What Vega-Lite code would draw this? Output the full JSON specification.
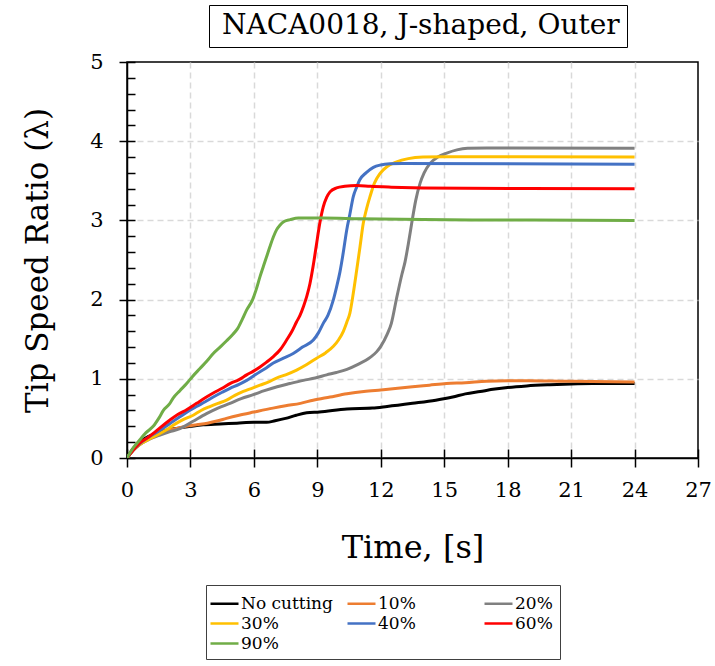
{
  "$schema": "https://vega.github.io/schema/vega-lite/v6.json",
  "width": 571,
  "height": 396,
  "autosize": {"type": "none"},
  "padding": {"left": 127, "top": 62, "right": 17, "bottom": 208},
  "background": "white",
  "config": {
    "view": {"stroke": "black", "strokeWidth": 1.5},
    "font": "DejaVu Serif"
  },
  "datasets": {
    "tsr": [
      {"cut": "No cutting", "t": 0, "tsr": 0},
      {"cut": "No cutting", "t": 0.3, "tsr": 0.12},
      {"cut": "No cutting", "t": 0.6, "tsr": 0.2},
      {"cut": "No cutting", "t": 1.0, "tsr": 0.27},
      {"cut": "No cutting", "t": 1.5, "tsr": 0.32},
      {"cut": "No cutting", "t": 2.0, "tsr": 0.36},
      {"cut": "No cutting", "t": 2.5, "tsr": 0.38},
      {"cut": "No cutting", "t": 3.0, "tsr": 0.4},
      {"cut": "No cutting", "t": 3.6, "tsr": 0.42},
      {"cut": "No cutting", "t": 4.4, "tsr": 0.43},
      {"cut": "No cutting", "t": 5.2, "tsr": 0.44},
      {"cut": "No cutting", "t": 6.0, "tsr": 0.45},
      {"cut": "No cutting", "t": 6.6, "tsr": 0.45},
      {"cut": "No cutting", "t": 7.0, "tsr": 0.47},
      {"cut": "No cutting", "t": 7.5, "tsr": 0.5},
      {"cut": "No cutting", "t": 8.0, "tsr": 0.54},
      {"cut": "No cutting", "t": 8.5, "tsr": 0.57},
      {"cut": "No cutting", "t": 9.1, "tsr": 0.58},
      {"cut": "No cutting", "t": 10.4, "tsr": 0.62},
      {"cut": "No cutting", "t": 11.6, "tsr": 0.63},
      {"cut": "No cutting", "t": 12.3, "tsr": 0.65},
      {"cut": "No cutting", "t": 13.5, "tsr": 0.69},
      {"cut": "No cutting", "t": 14.6, "tsr": 0.73},
      {"cut": "No cutting", "t": 15.4, "tsr": 0.77},
      {"cut": "No cutting", "t": 16.0, "tsr": 0.81},
      {"cut": "No cutting", "t": 16.7, "tsr": 0.84},
      {"cut": "No cutting", "t": 17.4, "tsr": 0.87},
      {"cut": "No cutting", "t": 18.0, "tsr": 0.89},
      {"cut": "No cutting", "t": 18.9, "tsr": 0.91},
      {"cut": "No cutting", "t": 20.0, "tsr": 0.925},
      {"cut": "No cutting", "t": 21.0, "tsr": 0.935},
      {"cut": "No cutting", "t": 22.0, "tsr": 0.94},
      {"cut": "No cutting", "t": 23.0, "tsr": 0.94},
      {"cut": "No cutting", "t": 24.0, "tsr": 0.94},

      {"cut": "10%", "t": 0, "tsr": 0},
      {"cut": "10%", "t": 0.3, "tsr": 0.1},
      {"cut": "10%", "t": 0.6, "tsr": 0.17},
      {"cut": "10%", "t": 1.0, "tsr": 0.24},
      {"cut": "10%", "t": 1.7, "tsr": 0.33},
      {"cut": "10%", "t": 2.3, "tsr": 0.37},
      {"cut": "10%", "t": 2.8, "tsr": 0.4},
      {"cut": "10%", "t": 3.3, "tsr": 0.42},
      {"cut": "10%", "t": 3.8, "tsr": 0.44},
      {"cut": "10%", "t": 4.3, "tsr": 0.47},
      {"cut": "10%", "t": 4.7, "tsr": 0.5},
      {"cut": "10%", "t": 5.3, "tsr": 0.54},
      {"cut": "10%", "t": 6.0, "tsr": 0.58},
      {"cut": "10%", "t": 6.9, "tsr": 0.63},
      {"cut": "10%", "t": 7.5, "tsr": 0.66},
      {"cut": "10%", "t": 8.2, "tsr": 0.69},
      {"cut": "10%", "t": 8.8, "tsr": 0.73},
      {"cut": "10%", "t": 9.6, "tsr": 0.77},
      {"cut": "10%", "t": 10.4, "tsr": 0.81},
      {"cut": "10%", "t": 11.2, "tsr": 0.84},
      {"cut": "10%", "t": 12.0, "tsr": 0.86},
      {"cut": "10%", "t": 12.8, "tsr": 0.88},
      {"cut": "10%", "t": 13.5, "tsr": 0.9},
      {"cut": "10%", "t": 14.3, "tsr": 0.92},
      {"cut": "10%", "t": 15.1, "tsr": 0.94},
      {"cut": "10%", "t": 16.0, "tsr": 0.95},
      {"cut": "10%", "t": 17.0, "tsr": 0.97},
      {"cut": "10%", "t": 18.0, "tsr": 0.975},
      {"cut": "10%", "t": 19.0, "tsr": 0.975},
      {"cut": "10%", "t": 20.5, "tsr": 0.97},
      {"cut": "10%", "t": 22.0, "tsr": 0.965},
      {"cut": "10%", "t": 24.0, "tsr": 0.96},

      {"cut": "20%", "t": 0, "tsr": 0},
      {"cut": "20%", "t": 0.3, "tsr": 0.1},
      {"cut": "20%", "t": 0.6, "tsr": 0.17},
      {"cut": "20%", "t": 1.0, "tsr": 0.23},
      {"cut": "20%", "t": 1.56, "tsr": 0.29},
      {"cut": "20%", "t": 2.0, "tsr": 0.33},
      {"cut": "20%", "t": 2.5, "tsr": 0.37},
      {"cut": "20%", "t": 3.1, "tsr": 0.46},
      {"cut": "20%", "t": 3.76, "tsr": 0.56},
      {"cut": "20%", "t": 4.3, "tsr": 0.63},
      {"cut": "20%", "t": 4.87, "tsr": 0.69},
      {"cut": "20%", "t": 5.4, "tsr": 0.75},
      {"cut": "20%", "t": 5.97, "tsr": 0.8},
      {"cut": "20%", "t": 6.5, "tsr": 0.85},
      {"cut": "20%", "t": 7.1, "tsr": 0.9},
      {"cut": "20%", "t": 7.7, "tsr": 0.94},
      {"cut": "20%", "t": 8.34, "tsr": 0.98},
      {"cut": "20%", "t": 8.9, "tsr": 1.01},
      {"cut": "20%", "t": 9.44, "tsr": 1.05},
      {"cut": "20%", "t": 9.9, "tsr": 1.08},
      {"cut": "20%", "t": 10.4, "tsr": 1.12},
      {"cut": "20%", "t": 10.9, "tsr": 1.18},
      {"cut": "20%", "t": 11.5, "tsr": 1.27},
      {"cut": "20%", "t": 11.8, "tsr": 1.34},
      {"cut": "20%", "t": 12.0, "tsr": 1.41},
      {"cut": "20%", "t": 12.3, "tsr": 1.56},
      {"cut": "20%", "t": 12.5, "tsr": 1.7},
      {"cut": "20%", "t": 12.75, "tsr": 2.02},
      {"cut": "20%", "t": 13.0, "tsr": 2.32},
      {"cut": "20%", "t": 13.15, "tsr": 2.48},
      {"cut": "20%", "t": 13.3, "tsr": 2.7},
      {"cut": "20%", "t": 13.46, "tsr": 2.96},
      {"cut": "20%", "t": 13.65, "tsr": 3.25},
      {"cut": "20%", "t": 13.86, "tsr": 3.47},
      {"cut": "20%", "t": 14.05, "tsr": 3.6},
      {"cut": "20%", "t": 14.33, "tsr": 3.72},
      {"cut": "20%", "t": 14.7, "tsr": 3.8},
      {"cut": "20%", "t": 15.12, "tsr": 3.85},
      {"cut": "20%", "t": 15.6, "tsr": 3.89},
      {"cut": "20%", "t": 16.1, "tsr": 3.91},
      {"cut": "20%", "t": 17.0, "tsr": 3.915},
      {"cut": "20%", "t": 18.0, "tsr": 3.915},
      {"cut": "20%", "t": 24.0, "tsr": 3.91},

      {"cut": "30%", "t": 0, "tsr": 0},
      {"cut": "30%", "t": 0.3, "tsr": 0.1},
      {"cut": "30%", "t": 0.6, "tsr": 0.17},
      {"cut": "30%", "t": 1.0, "tsr": 0.23},
      {"cut": "30%", "t": 1.56, "tsr": 0.31},
      {"cut": "30%", "t": 2.0, "tsr": 0.38},
      {"cut": "30%", "t": 2.35, "tsr": 0.44},
      {"cut": "30%", "t": 2.7, "tsr": 0.49},
      {"cut": "30%", "t": 3.13, "tsr": 0.54},
      {"cut": "30%", "t": 3.5, "tsr": 0.6},
      {"cut": "30%", "t": 3.92, "tsr": 0.65},
      {"cut": "30%", "t": 4.3, "tsr": 0.69},
      {"cut": "30%", "t": 4.71, "tsr": 0.73},
      {"cut": "30%", "t": 5.1, "tsr": 0.79},
      {"cut": "30%", "t": 5.5, "tsr": 0.84},
      {"cut": "30%", "t": 5.9, "tsr": 0.88},
      {"cut": "30%", "t": 6.29, "tsr": 0.92},
      {"cut": "30%", "t": 6.7, "tsr": 0.96},
      {"cut": "30%", "t": 7.07, "tsr": 1.01},
      {"cut": "30%", "t": 7.5, "tsr": 1.05},
      {"cut": "30%", "t": 8.02, "tsr": 1.11},
      {"cut": "30%", "t": 8.5, "tsr": 1.18},
      {"cut": "30%", "t": 8.97, "tsr": 1.26},
      {"cut": "30%", "t": 9.4, "tsr": 1.33},
      {"cut": "30%", "t": 9.76, "tsr": 1.41},
      {"cut": "30%", "t": 10.0, "tsr": 1.49},
      {"cut": "30%", "t": 10.23, "tsr": 1.6},
      {"cut": "30%", "t": 10.4, "tsr": 1.72},
      {"cut": "30%", "t": 10.54, "tsr": 1.83},
      {"cut": "30%", "t": 10.7, "tsr": 2.08},
      {"cut": "30%", "t": 10.86, "tsr": 2.37},
      {"cut": "30%", "t": 11.02, "tsr": 2.67},
      {"cut": "30%", "t": 11.17, "tsr": 2.96},
      {"cut": "30%", "t": 11.33, "tsr": 3.15},
      {"cut": "30%", "t": 11.49, "tsr": 3.3},
      {"cut": "30%", "t": 11.7, "tsr": 3.47},
      {"cut": "30%", "t": 11.96, "tsr": 3.59},
      {"cut": "30%", "t": 12.3, "tsr": 3.68},
      {"cut": "30%", "t": 12.75, "tsr": 3.74},
      {"cut": "30%", "t": 13.3, "tsr": 3.78},
      {"cut": "30%", "t": 14.0, "tsr": 3.8},
      {"cut": "30%", "t": 15.0, "tsr": 3.805},
      {"cut": "30%", "t": 24.0, "tsr": 3.8},

      {"cut": "40%", "t": 0, "tsr": 0},
      {"cut": "40%", "t": 0.3, "tsr": 0.1},
      {"cut": "40%", "t": 0.6, "tsr": 0.18},
      {"cut": "40%", "t": 1.0, "tsr": 0.26},
      {"cut": "40%", "t": 1.56, "tsr": 0.35},
      {"cut": "40%", "t": 2.0, "tsr": 0.43},
      {"cut": "40%", "t": 2.5, "tsr": 0.52},
      {"cut": "40%", "t": 2.9, "tsr": 0.59},
      {"cut": "40%", "t": 3.29, "tsr": 0.65},
      {"cut": "40%", "t": 3.7, "tsr": 0.71},
      {"cut": "40%", "t": 4.08, "tsr": 0.77},
      {"cut": "40%", "t": 4.5, "tsr": 0.83},
      {"cut": "40%", "t": 4.87, "tsr": 0.88},
      {"cut": "40%", "t": 5.3, "tsr": 0.93},
      {"cut": "40%", "t": 5.66, "tsr": 0.98},
      {"cut": "40%", "t": 6.0, "tsr": 1.04},
      {"cut": "40%", "t": 6.29, "tsr": 1.09},
      {"cut": "40%", "t": 6.6, "tsr": 1.14},
      {"cut": "40%", "t": 6.92, "tsr": 1.2},
      {"cut": "40%", "t": 7.4, "tsr": 1.26},
      {"cut": "40%", "t": 7.86, "tsr": 1.32},
      {"cut": "40%", "t": 8.3, "tsr": 1.4},
      {"cut": "40%", "t": 8.81, "tsr": 1.49},
      {"cut": "40%", "t": 9.05, "tsr": 1.58},
      {"cut": "40%", "t": 9.28, "tsr": 1.7},
      {"cut": "40%", "t": 9.5, "tsr": 1.8},
      {"cut": "40%", "t": 9.76, "tsr": 2.0},
      {"cut": "40%", "t": 9.92, "tsr": 2.17},
      {"cut": "40%", "t": 10.07, "tsr": 2.35},
      {"cut": "40%", "t": 10.23, "tsr": 2.6},
      {"cut": "40%", "t": 10.39, "tsr": 2.88},
      {"cut": "40%", "t": 10.54, "tsr": 3.08},
      {"cut": "40%", "t": 10.7, "tsr": 3.3},
      {"cut": "40%", "t": 10.86, "tsr": 3.42},
      {"cut": "40%", "t": 11.0, "tsr": 3.51},
      {"cut": "40%", "t": 11.3, "tsr": 3.6},
      {"cut": "40%", "t": 11.65, "tsr": 3.67},
      {"cut": "40%", "t": 12.0, "tsr": 3.7},
      {"cut": "40%", "t": 12.43, "tsr": 3.715},
      {"cut": "40%", "t": 13.0, "tsr": 3.72},
      {"cut": "40%", "t": 24.0, "tsr": 3.71},

      {"cut": "60%", "t": 0, "tsr": 0},
      {"cut": "60%", "t": 0.3, "tsr": 0.1},
      {"cut": "60%", "t": 0.61, "tsr": 0.19},
      {"cut": "60%", "t": 1.0, "tsr": 0.26},
      {"cut": "60%", "t": 1.24, "tsr": 0.31},
      {"cut": "60%", "t": 1.6, "tsr": 0.39},
      {"cut": "60%", "t": 2.03, "tsr": 0.48},
      {"cut": "60%", "t": 2.4, "tsr": 0.55},
      {"cut": "60%", "t": 2.82, "tsr": 0.61},
      {"cut": "60%", "t": 3.29, "tsr": 0.69},
      {"cut": "60%", "t": 3.7, "tsr": 0.76},
      {"cut": "60%", "t": 4.08, "tsr": 0.82},
      {"cut": "60%", "t": 4.5, "tsr": 0.88},
      {"cut": "60%", "t": 4.87, "tsr": 0.94},
      {"cut": "60%", "t": 5.3, "tsr": 0.99},
      {"cut": "60%", "t": 5.66, "tsr": 1.05},
      {"cut": "60%", "t": 6.0, "tsr": 1.1},
      {"cut": "60%", "t": 6.29, "tsr": 1.15},
      {"cut": "60%", "t": 6.6, "tsr": 1.21},
      {"cut": "60%", "t": 6.92, "tsr": 1.28},
      {"cut": "60%", "t": 7.25, "tsr": 1.37},
      {"cut": "60%", "t": 7.55, "tsr": 1.49},
      {"cut": "60%", "t": 7.8, "tsr": 1.6},
      {"cut": "60%", "t": 8.02, "tsr": 1.72},
      {"cut": "60%", "t": 8.18, "tsr": 1.8},
      {"cut": "60%", "t": 8.34, "tsr": 1.91},
      {"cut": "60%", "t": 8.5, "tsr": 2.04},
      {"cut": "60%", "t": 8.65, "tsr": 2.2},
      {"cut": "60%", "t": 8.8, "tsr": 2.42},
      {"cut": "60%", "t": 8.95, "tsr": 2.68},
      {"cut": "60%", "t": 9.12, "tsr": 2.97},
      {"cut": "60%", "t": 9.28, "tsr": 3.17},
      {"cut": "60%", "t": 9.44, "tsr": 3.29},
      {"cut": "60%", "t": 9.6, "tsr": 3.36},
      {"cut": "60%", "t": 9.91, "tsr": 3.41},
      {"cut": "60%", "t": 10.3, "tsr": 3.43},
      {"cut": "60%", "t": 10.86, "tsr": 3.44},
      {"cut": "60%", "t": 11.5, "tsr": 3.43},
      {"cut": "60%", "t": 12.5, "tsr": 3.42},
      {"cut": "60%", "t": 14.0, "tsr": 3.41},
      {"cut": "60%", "t": 16.0, "tsr": 3.405},
      {"cut": "60%", "t": 24.0, "tsr": 3.4},

      {"cut": "90%", "t": 0, "tsr": 0},
      {"cut": "90%", "t": 0.3, "tsr": 0.13},
      {"cut": "90%", "t": 0.61, "tsr": 0.23},
      {"cut": "90%", "t": 0.9, "tsr": 0.32},
      {"cut": "90%", "t": 1.24, "tsr": 0.4},
      {"cut": "90%", "t": 1.5, "tsr": 0.5},
      {"cut": "90%", "t": 1.72, "tsr": 0.6},
      {"cut": "90%", "t": 2.0, "tsr": 0.68},
      {"cut": "90%", "t": 2.19, "tsr": 0.76},
      {"cut": "90%", "t": 2.5, "tsr": 0.85},
      {"cut": "90%", "t": 2.82, "tsr": 0.94},
      {"cut": "90%", "t": 3.1, "tsr": 1.03},
      {"cut": "90%", "t": 3.45, "tsr": 1.13},
      {"cut": "90%", "t": 3.8, "tsr": 1.23},
      {"cut": "90%", "t": 4.08, "tsr": 1.32},
      {"cut": "90%", "t": 4.4, "tsr": 1.4},
      {"cut": "90%", "t": 4.71, "tsr": 1.48},
      {"cut": "90%", "t": 5.0, "tsr": 1.56},
      {"cut": "90%", "t": 5.22, "tsr": 1.63},
      {"cut": "90%", "t": 5.45, "tsr": 1.75},
      {"cut": "90%", "t": 5.66, "tsr": 1.87},
      {"cut": "90%", "t": 5.94, "tsr": 2.0},
      {"cut": "90%", "t": 6.1, "tsr": 2.12},
      {"cut": "90%", "t": 6.29, "tsr": 2.29},
      {"cut": "90%", "t": 6.45, "tsr": 2.42},
      {"cut": "90%", "t": 6.6, "tsr": 2.54},
      {"cut": "90%", "t": 6.76, "tsr": 2.67},
      {"cut": "90%", "t": 6.92, "tsr": 2.79},
      {"cut": "90%", "t": 7.07, "tsr": 2.88},
      {"cut": "90%", "t": 7.23, "tsr": 2.94},
      {"cut": "90%", "t": 7.45, "tsr": 2.99},
      {"cut": "90%", "t": 7.71, "tsr": 3.01},
      {"cut": "90%", "t": 8.1, "tsr": 3.03},
      {"cut": "90%", "t": 8.5, "tsr": 3.03},
      {"cut": "90%", "t": 9.28, "tsr": 3.03},
      {"cut": "90%", "t": 11.0, "tsr": 3.02},
      {"cut": "90%", "t": 14.0, "tsr": 3.01},
      {"cut": "90%", "t": 18.0, "tsr": 3.005},
      {"cut": "90%", "t": 24.0, "tsr": 3.0}
    ]
  },
  "data": {"name": "tsr"},
  "resolve": {"axis": {"x": "independent", "y": "independent"}},
  "layer": [
    {
      "mark": {"type": "line", "strokeWidth": 3, "interpolate": "monotone", "clip": true},
      "encoding": {
        "x": {
          "field": "t", "type": "quantitative",
          "scale": {"domain": [0, 27], "nice": false, "zero": false},
          "axis": {
            "values": [0, 3, 6, 9, 12, 15, 18, 21, 24, 27],
            "title": "Time, [s]",
            "titleFont": "DejaVu Serif", "titleFontSize": 32, "titleFontWeight": "normal",
            "titleColor": "black", "titlePadding": 32,
            "labelFont": "DejaVu Serif", "labelFontSize": 21, "labelColor": "black",
            "labelPadding": 12, "labelFlush": false,
            "tickSize": 9, "tickColor": "black", "tickWidth": 1.5,
            "domainColor": "black", "domainWidth": 1.5,
            "grid": true, "gridColor": "#d9d9d9", "gridDash": [6, 4], "gridWidth": 1.5,
            "gridOpacity": {"condition": {"test": "datum.value === 0 || datum.value === 27", "value": 0}, "value": 1}
          }
        },
        "y": {
          "field": "tsr", "type": "quantitative",
          "scale": {"domain": [0, 5], "nice": false},
          "axis": {
            "values": [0, 1, 2, 3, 4, 5],
            "title": "Tip Speed Ratio (λ)",
            "titleFont": "DejaVu Serif", "titleFontSize": 31, "titleFontWeight": "normal",
            "titleColor": "black", "titlePadding": 35,
            "labelFont": "DejaVu Serif", "labelFontSize": 21, "labelColor": "black",
            "labelPadding": 16, "labelFlush": false,
            "tickSize": 8, "tickColor": "black", "tickWidth": 1.5,
            "domainColor": "black", "domainWidth": 1.5,
            "grid": true, "gridColor": "#d9d9d9", "gridDash": [6, 4], "gridWidth": 1.5,
            "gridOpacity": {"condition": {"test": "datum.value === 0 || datum.value === 5", "value": 0}, "value": 1}
          }
        },
        "color": {
          "field": "cut", "type": "nominal",
          "scale": {
            "domain": ["No cutting", "10%", "20%", "30%", "40%", "60%", "90%"],
            "range": ["#000000", "#ED7D31", "#808080", "#FFC000", "#4472C4", "#FF0000", "#70AD47"]
          },
          "legend": {
            "orient": "none", "legendX": 79, "legendY": 523,
            "direction": "horizontal", "columns": 3, "gridAlign": "all",
            "title": null,
            "symbolType": "M-1.4,0L1.4,0", "symbolSize": 400, "symbolStrokeWidth": 2.5,
            "labelFont": "DejaVu Serif", "labelFontSize": 17, "labelColor": "black",
            "labelOffset": 5, "labelLimit": 0,
            "columnPadding": 9, "rowPadding": 0,
            "strokeColor": "#404040", "padding": 7, "fillColor": "white"
          }
        }
      }
    },
    {
      "mark": {"type": "point", "opacity": 0},
      "encoding": {
        "x": {
          "field": "t", "type": "quantitative",
          "axis": {
            "orient": "bottom", "values": [0, 3, 6, 9, 12, 15, 18, 21, 24, 27],
            "labels": false, "domain": false, "grid": false, "title": null,
            "tickSize": -9, "tickColor": "black", "tickWidth": 1.5
          }
        },
        "y": {
          "field": "tsr", "type": "quantitative",
          "axis": {
            "orient": "left",
            "values": [0, 0.2, 0.4, 0.6, 0.8, 1, 1.2, 1.4, 1.6, 1.8, 2, 2.2, 2.4, 2.6, 2.8, 3, 3.2, 3.4, 3.6, 3.8, 4, 4.2, 4.4, 4.6, 4.8, 5],
            "labels": false, "domain": false, "grid": false, "title": null,
            "tickSize": -8, "tickColor": "black", "tickWidth": 1.5
          }
        },
        "shape": {
          "datum": "NACA0018, J-shaped, Outer",
          "legend": {
            "orient": "none", "legendX": 82, "legendY": -57,
            "title": null,
            "symbolSize": 0, "symbolOpacity": 0, "symbolStrokeWidth": 0,
            "labelFont": "DejaVu Serif", "labelFontSize": 28, "labelColor": "black",
            "labelOffset": -22, "labelLimit": 0,
            "strokeColor": "black", "padding": 7, "fillColor": "white"
          }
        }
      }
    }
  ]
}
